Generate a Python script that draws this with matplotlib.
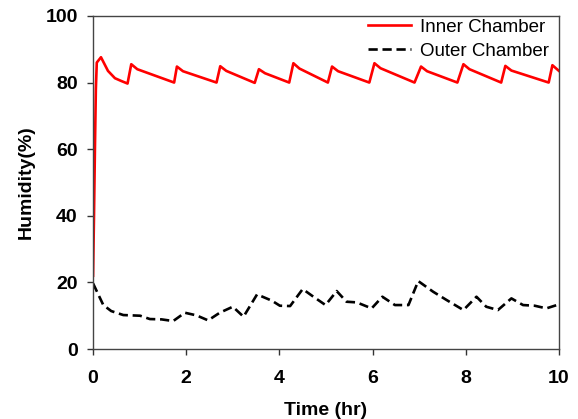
import numpy as np
import matplotlib.pyplot as plt

plt.rcParams['font.family'] = ['Liberation Sans', 'DejaVu Sans']

# Inner chamber humidity (red, solid)
inner_t = [0.0, 0.02, 0.04, 0.06, 0.08, 0.17, 0.32, 0.47, 0.6, 0.74,
           0.82, 0.95, 1.74,
           1.8, 1.93, 2.65,
           2.73, 2.86, 3.47,
           3.56, 3.69, 4.21,
           4.3, 4.43, 5.04,
           5.13, 5.26, 5.93,
           6.04, 6.17, 6.9,
           7.04, 7.17, 7.82,
           7.95, 8.08, 8.76,
           8.85, 8.98, 9.78,
           9.86, 10.0]
inner_h = [22.0, 40.0, 60.0, 78.0, 86.0, 87.6, 83.5, 81.3, 80.5, 79.7,
           85.5, 84.0, 80.0,
           84.8, 83.4, 80.0,
           84.9, 83.5, 79.9,
           84.0, 82.8, 80.0,
           85.8, 84.2, 80.0,
           84.8, 83.4, 80.0,
           85.8, 84.3, 80.0,
           84.8, 83.4, 80.0,
           85.5, 84.0, 80.0,
           85.0, 83.6, 80.0,
           85.2, 83.5]

# Outer chamber humidity (black, dashed)
outer_t = [0.0, 0.22, 0.39, 0.65, 1.01, 1.22, 1.47, 1.72, 1.97, 2.22,
           2.47, 2.72, 3.0, 3.23, 3.52, 3.84, 4.01, 4.23, 4.5, 4.73,
           4.99, 5.23, 5.44, 5.66, 5.98, 6.21, 6.48, 6.77, 6.98, 7.3,
           7.59, 7.95, 8.23, 8.44, 8.69, 8.98, 9.23, 9.48, 9.73, 10.0]
outer_h = [19.7, 13.2, 11.4, 10.2, 10.0, 9.0, 8.9, 8.4, 10.9, 10.1,
           8.6, 10.9, 12.7, 9.7, 16.4, 14.5, 13.0, 12.9, 18.0, 15.7,
           13.2, 17.4, 14.2, 14.0, 12.2, 15.7, 13.2, 13.2, 20.4, 17.2,
           14.7, 11.7, 15.7, 12.7, 11.7, 15.2, 13.2, 13.0, 12.2, 13.4]

xticks = [0, 2, 4, 6, 8, 10]
yticks = [0, 20, 40, 60, 80, 100]

fig, ax = plt.subplots(figsize=(5.78, 4.19), dpi=100)
fig.subplots_adjust(left=0.161, right=0.967, top=0.962, bottom=0.167)

ax.plot(inner_t, inner_h, color='red', lw=1.9, label='Inner Chamber')
ax.plot(outer_t, outer_h, color='black', lw=1.9, ls=(0, (3.5, 1.8)),
        label='Outer Chamber')

ax.set_xlim(0, 10)
ax.set_ylim(0, 100)
ax.set_xticks(xticks)
ax.set_yticks(yticks)
ax.tick_params(direction='out', length=4, width=1, colors='#333333',
               labelcolor='black', labelsize=14)
ax.tick_params(axis='x', pad=11)
ax.tick_params(axis='y', pad=7)
for lbl in ax.get_xticklabels() + ax.get_yticklabels():
    lbl.set_fontweight('bold')
for sp in ax.spines.values():
    sp.set_color('#444444')
    sp.set_linewidth(1)

ax.set_xlabel('Time (hr)', fontsize=14, fontweight='bold', labelpad=11)
ax.set_ylabel('Humidity(%)', fontsize=14, fontweight='bold', labelpad=8)

ax.legend(loc='upper right', frameon=False, fontsize=13.5,
          handlelength=2.3, handletextpad=0.5, labelspacing=0.35,
          borderaxespad=0.0, bbox_to_anchor=(0.995, 1.014))

fig.savefig('out.png', dpi=100)
